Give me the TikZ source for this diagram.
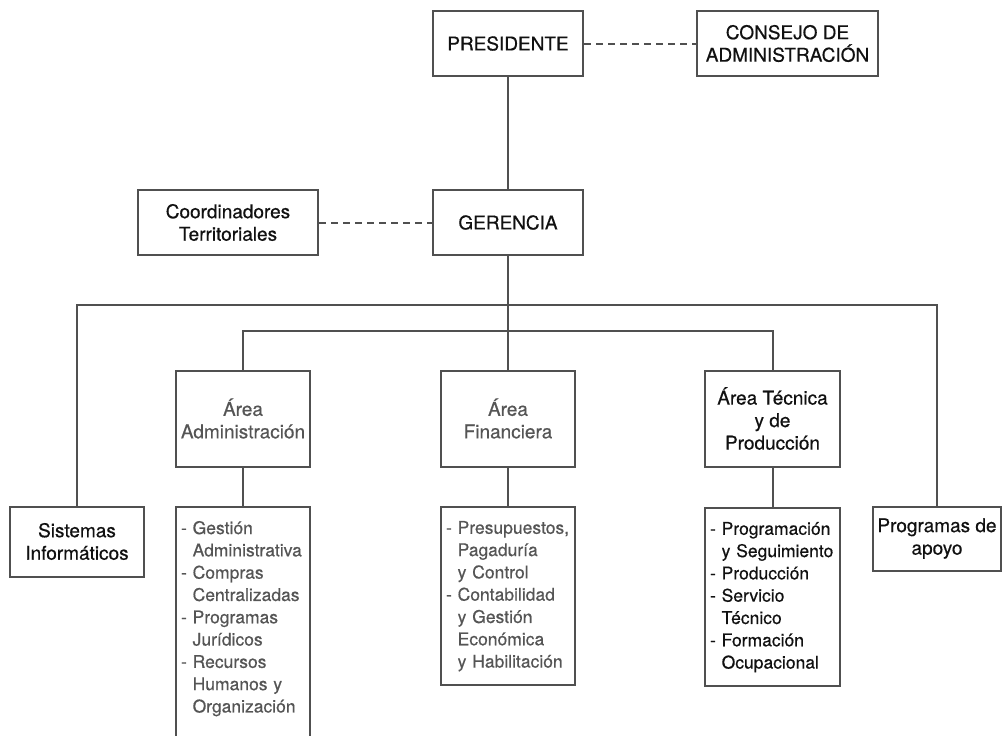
\documentclass[tikz,border=0pt]{standalone}
\usepackage{fontspec}
\setmainfont{TeX Gyre Heros}[FakeBold=0.5]
\usetikzlibrary{positioning}

\definecolor{inkline}{HTML}{505050}
\definecolor{inkgrey}{HTML}{555555}
\definecolor{inkblack}{HTML}{111111}

\newcommand{\ind}{\hphantom{- }}

\begin{document}
\begin{tikzpicture}[
  x=1pt, y=-1pt,
  unit/.style     = {draw=inkline, line width=2pt, fill=white, align=center,
                     text=inkblack, inner sep=4pt,
                     font=\fontsize{19}{22.5}\selectfont},
  area/.style     = {unit, minimum width=134pt, minimum height=96pt},
  faded/.style    = {text=inkgrey},          % the two areas set in grey
  tasks/.style    = {draw=inkline, line width=2pt, anchor=north, align=left,
                     text=inkblack, text width=124pt, inner xsep=5pt, inner ysep=14pt,
                     font=\fontsize{17.5}{22.3}\selectfont},
  link/.style     = {draw=inkline, line width=2pt},
  advisory/.style = {link, dash pattern=on 7pt off 5pt},
]
  \clip (0,0) rectangle (1002,736);

  \node[unit, minimum width=150pt, minimum height=65pt] (pres) at (508,43.5) {PRESIDENTE};
  \node[unit, minimum width=181pt, minimum height=65pt] (cons) at (787.5,43.5) {CONSEJO DE\\ADMINISTRACIÓN};
  \node[unit, minimum width=150pt, minimum height=65pt] (ger) at (508,222.5) {GERENCIA};
  \node[unit, minimum width=180pt, minimum height=65pt] (coord) at (228,222.5) {Coordinadores\\Territoriales};

  \node[area,faded] (adm) at (243,418.5) {Área\\Administración};
  \node[area,faded] (fin) at (508,418.5) {Área\\Financiera};
  \node[area, minimum width=135pt] (tec) at (772.5,418.5) {Área Técnica\\y de\\Producción};

  \node[unit, minimum width=134pt, minimum height=70pt] (sis) at (77,541.5) {Sistemas\\Informáticos};
  \node[unit, minimum width=128pt, minimum height=64pt] (prog) at (937,538.5) {Programas de\\apoyo};

  \node[tasks,faded] (admlist) at (243,506) {- Gestión\\\ind Administrativa\\- Compras\\\ind Centralizadas\\- Programas\\\ind Jurídicos\\- Recursos\\\ind Humanos y\\\ind Organización\\\ind};
  \node[tasks,faded] (finlist) at (508,506) {- Presupuestos,\\\ind Pagaduría\\\ind y Control\\- Contabilidad\\\ind y Gestión\\\ind Económica\\\ind y Habilitación};
  \node[tasks, text width=125pt] (teclist) at (772.5,507) {- Programación\\\ind y Seguimiento\\- Producción\\- Servicio\\\ind Técnico\\- Formación\\\ind Ocupacional};

  % bus lines under the manager
  \coordinate (outerbus) at (508,305);
  \coordinate (innerbus) at (508,331);

  \draw[advisory] (pres) -- (cons);
  \draw[advisory] (coord) -- (ger);
  \draw[link] (pres) -- (ger);
  \draw[link] (ger) -- (fin);
  \draw[link] (sis.north) |- (outerbus) -| (prog.north);
  \draw[link] (adm.north) |- (innerbus) -| (tec.north);
  \draw[link] (adm) -- (admlist);
  \draw[link] (fin) -- (finlist);
  \draw[link] (tec) -- (teclist);
\end{tikzpicture}
\end{document}
